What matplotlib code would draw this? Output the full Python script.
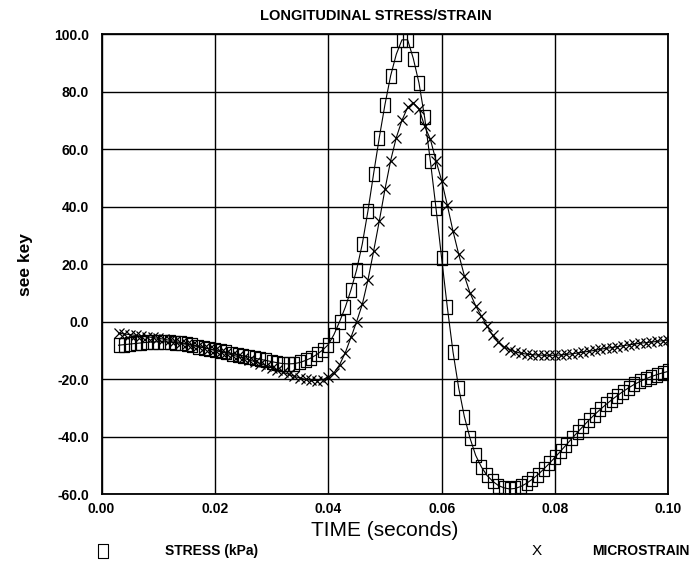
import numpy as np
import matplotlib
matplotlib.use("Agg")
import matplotlib.pyplot as plt
from matplotlib import font_manager as fm

# sample times (s), 1 ms spacing
time_s = [0.003, 0.004, 0.005, 0.006, 0.007, 0.008, 0.009, 0.010, 0.011, 0.012,
          0.013, 0.014, 0.015, 0.016, 0.017, 0.018, 0.019, 0.020, 0.021, 0.022,
          0.023, 0.024, 0.025, 0.026, 0.027, 0.028, 0.029, 0.030, 0.031, 0.032,
          0.033, 0.034, 0.035, 0.036, 0.037, 0.038, 0.039, 0.040, 0.041, 0.042,
          0.043, 0.044, 0.045, 0.046, 0.047, 0.048, 0.049, 0.050, 0.051, 0.052,
          0.053, 0.054, 0.055, 0.056, 0.057, 0.058, 0.059, 0.060, 0.061, 0.062,
          0.063, 0.064, 0.065, 0.066, 0.067, 0.068, 0.069, 0.070, 0.071, 0.072,
          0.073, 0.074, 0.075, 0.076, 0.077, 0.078, 0.079, 0.080, 0.081, 0.082,
          0.083, 0.084, 0.085, 0.086, 0.087, 0.088, 0.089, 0.090, 0.091, 0.092,
          0.093, 0.094, 0.095, 0.096, 0.097, 0.098, 0.099, 0.100]

stress_kpa = [-8.2, -8.0, -7.8, -7.6, -7.4, -7.2, -7.1, -7.0, -7.0, -7.1,
              -7.3, -7.6, -7.9, -8.3, -8.7, -9.1, -9.5, -9.9, -10.3, -10.7,
              -11.1, -11.5, -11.9, -12.3, -12.7, -13.1, -13.5, -13.9, -14.3, -14.6,
              -14.7, -14.6, -14.2, -13.5, -12.6, -11.4, -9.9, -8.0, -4.5, 0.0,
              5.0, 11.0, 18.0, 27.0, 38.5, 51.5, 64.0, 75.5, 85.5, 93.0,
              98.0, 98.0, 91.5, 83.0, 71.0, 56.0, 39.5, 22.0, 5.0, -10.5,
              -23.0, -33.0, -40.5, -46.5, -50.5, -53.5, -55.5, -57.0, -57.8, -58.2,
              -58.0, -57.3, -56.2, -54.8, -53.2, -51.3, -49.3, -47.2, -45.0, -42.8,
              -40.6, -38.4, -36.3, -34.2, -32.3, -30.5, -28.8, -27.2, -25.7, -24.3,
              -23.0, -21.8, -20.8, -19.9, -19.1, -18.4, -17.8, -17.3]

microstrain = [-4.0, -4.3, -4.5, -4.8, -5.0, -5.3, -5.5, -5.8, -6.1, -6.5,
               -6.9, -7.3, -7.7, -8.1, -8.5, -9.0, -9.5, -10.0, -10.5, -11.0,
               -11.6, -12.1, -12.7, -13.3, -13.9, -14.6, -15.3, -16.0, -16.8, -17.6,
               -18.3, -19.0, -19.6, -20.1, -20.4, -20.5, -20.2, -19.4, -17.8, -15.0,
               -10.8, -5.5, 0.0, 6.0, 14.5, 24.5, 35.0, 46.0, 56.0, 64.0,
               70.0, 74.5, 76.0, 74.0, 68.0, 63.5, 56.0, 49.0, 40.5, 31.5,
               23.5, 16.0, 10.0, 5.5, 2.0, -1.5, -4.8, -7.2, -8.8, -9.8,
               -10.5, -11.0, -11.3, -11.5, -11.6, -11.7, -11.7, -11.7, -11.6, -11.4,
               -11.2, -10.9, -10.6, -10.3, -10.0, -9.6, -9.3, -9.0, -8.7, -8.4,
               -8.1, -7.8, -7.5, -7.3, -7.1, -6.9, -6.6, -6.4]

x_ticks = [0.00, 0.02, 0.04, 0.06, 0.08, 0.10]
y_ticks = [-60, -40, -20, 0, 20, 40, 60, 80, 100]

names = {f.name for f in fm.fontManager.ttflist}
narrow = "Liberation Sans Narrow" in names
base = "Liberation Sans"
plt.rcParams["font.family"] = base

# tall open rectangle used for the stress markers
rect = [(-0.78, -1), (0.78, -1), (0.78, 1), (-0.78, 1), (-0.78, -1)]

fig = plt.figure(figsize=(6.93, 5.68), dpi=100)
ax = fig.add_axes([0.1465, 0.130, 0.818, 0.810])

ax.plot(time_s, stress_kpa, color="black", lw=0.8, marker=rect, markersize=10,
        markerfacecolor="none", markeredgecolor="black", markeredgewidth=0.9,
        zorder=3)
ax.plot(time_s, microstrain, color="black", lw=0.8, marker="x", markersize=7.5,
        markeredgewidth=0.9, zorder=3)

ax.set_xlim(0, 0.1)
ax.set_ylim(-60, 100)
ax.set_xticks(x_ticks)
ax.set_yticks(y_ticks)
ax.set_xticklabels([f"{v:.2f}" for v in x_ticks])
ax.set_yticklabels([f"{v:.1f}" for v in y_ticks])
ax.tick_params(length=0, labelsize=10)
ax.tick_params(axis="y", pad=9)
ax.tick_params(axis="x", pad=6)
for lab in ax.get_xticklabels() + ax.get_yticklabels():
    lab.set_fontweight("bold")
ax.grid(True, color="black", lw=1.0)
ax.set_axisbelow(True)
for s in ax.spines.values():
    s.set_linewidth(1.3)

ax.set_xlabel("TIME (seconds)", fontsize=15, labelpad=3)
ax.set_ylabel("see key", fontsize=12.5, fontweight="bold", labelpad=15)

if narrow:
    fig.text(0.543, 0.972, "LONGITUDINAL STRESS/STRAIN", family="Liberation Sans Narrow",
             fontsize=12, fontweight="bold", ha="center", va="center")
else:
    fig.text(0.543, 0.972, "LONGITUDINAL STRESS/STRAIN", fontsize=10.5,
             fontweight="bold", ha="center", va="center")

# key row under the x label
ax.plot([0.148], [0.030], transform=fig.transFigure, clip_on=False, marker=rect,
        markersize=10, markerfacecolor="none", markeredgecolor="black",
        markeredgewidth=0.8)
fig.text(0.238, 0.030, "STRESS (kPa)", fontsize=10, fontweight="bold", va="center")
fig.text(0.775, 0.030, "X", fontsize=11, va="center", ha="center")
fig.text(0.995, 0.030, "MICROSTRAIN", fontsize=10, fontweight="bold", va="center",
         ha="right")

fig.savefig("out.png", dpi=100)
